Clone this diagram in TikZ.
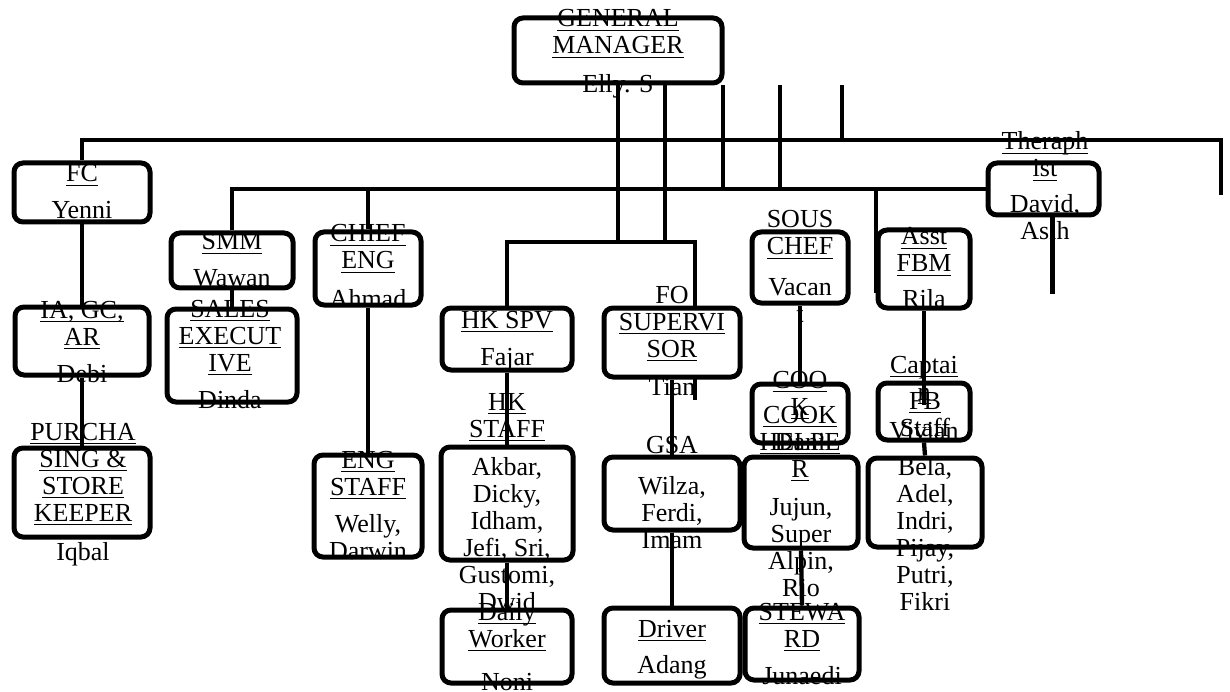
\documentclass[tikz,border=0pt]{standalone}
\usepackage{fontspec}
\setmainfont{Liberation Serif}
\usetikzlibrary{backgrounds}
\newcommand\ulw[1]{\setbox0=\hbox{#1}\rlap{\rule[-4pt]{\wd0}{1.3pt}}\box0}
\newcommand\stk[1]{\vtop{\baselineskip=27pt\lineskiplimit=-100pt\lineskip=0pt\halign{\hfil##\hfil\cr#1\crcr}}}
\newcommand\tx[4]{\node[txt] (#1) at (#2,#3) {\stk{#4}};}
\newcommand\bx[5]{\node[orgbox, minimum width={(#4-#2)*1pt}, minimum height={(#5-#3)*1pt}] (#1) at ({(#2+#4)/2},{(#3+#5)/2}) {};}
\tikzset{
  orgbox/.style={draw, line width=5pt, rounded corners=9pt, fill=white, inner sep=0pt},
  ln/.style={line width=4.3pt},
  txt/.style={inner sep=0pt, anchor=base, font=\fontsize{26}{27}\selectfont}
}
\begin{document}
\begin{tikzpicture}[x=1pt,y=-1pt]
\useasboundingbox (0,0) rectangle (1230,692);
% boxes
\bx{gm}{514}{18}{722}{83}
\bx{fc}{14}{163}{150}{222}
\bx{ia}{15}{307}{149}{375}
\bx{purch}{14}{448}{150}{537}
\bx{smm}{171}{233}{293}{288}
\bx{sales}{167}{309}{297}{402}
\bx{ce}{315}{232}{421}{305}
\bx{engst}{314}{455}{422}{557}
\bx{hkspv}{442}{308}{572}{370}
\bx{hkst}{441}{447}{573}{560}
\bx{daily}{442}{610}{572}{683}
\bx{fo}{604}{308}{740}{377}
\bx{gsa}{604}{457}{740}{530}
\bx{driver}{604}{608}{740}{683}
\bx{sous}{752}{232}{848}{303}
\bx{cook}{752}{384}{848}{443}
\bx{ckh}{744}{457}{858}{548}
\bx{stew}{745}{608}{859}{680}
\bx{afbm}{878}{230}{970}{308}
\bx{capt}{878}{383}{970}{440}
\bx{fbst}{868}{458}{982}{547}
\bx{th}{988}{163}{1099}{215}
% bus coordinates
\coordinate (aL) at (82,140);
\coordinate (aR) at (1221,140);
\coordinate (bL) at (232,189);
\coordinate (cL) at (507,242);
\coordinate (cR) at (695,242);
\coordinate (fbmT) at (876,189);
\coordinate (fbmB) at (876,293);
\begin{scope}[on background layer]
\draw[ln] (fc.north) -- (fc.north |- aL) -- (aR) -- ++(0,55);
\draw[ln] (smm.north) -- (smm.north |- bL) -- (th.west);
\draw[ln] (ce.north) -- (ce.north |- bL);
\draw[ln] (fbmT) -- (fbmB);
\draw[ln] (hkspv.north) -- (hkspv.north |- cL) -- (cR) -- ++(0,158);
\draw[ln] (gm.south) -- (gm.south |- cL);
\draw[ln] ([xshift=47pt]gm.south) -- ++(0,159);
\draw[ln] ([xshift=105pt]gm.south) -- ++(0,106);
\draw[ln] ([xshift=162pt]gm.south) -- ++(0,106);
\draw[ln] ([xshift=224pt]gm.south) -- ++(0,57);
\draw[ln] (fc.south) -- (ia.north);
\draw[ln] (ia.south) -- (purch.north);
\draw[ln] (smm.south) -- (sales.north);
\draw[ln] (ce.south) -- (engst.north);
\draw[ln] (hkspv.south) -- (hkst.north);
\draw[ln] (hkst.south) -- (daily.north);
\draw[ln] (fo.south) -- (gsa.north);
\draw[ln] (gsa.south) -- (driver.north);
\draw[ln] (sous.south) -- (cook.north);
\draw[ln] (ckh.south) -- (stew.north);
\draw[ln] (capt.south) -- (fbst.north);
\draw[ln] ([xshift=9pt]th.south) -- ++(0,77);
\end{scope}
\draw[ln] (afbm.south) -- ([yshift=-24pt]capt.north);
% texts
\tx{t1}{618}{27}{\ulw{GENERAL}\cr\ulw{MANAGER}}
\tx{t2}{618}{93}{Elly. S}
\tx{t3}{82}{182}{\ulw{FC}}
\tx{t4}{82}{219}{Yenni}
\tx{t5}{232}{250}{\ulw{SMM}}
\tx{t6}{232}{287}{Wawan}
\tx{t7}{368}{242}{\ulw{CHIEF}\cr\ulw{ENG}}
\tx{t8}{368}{307}{Ahmad}
\tx{t9}{82}{318}{\ulw{IA, GC,}\cr\ulw{AR}}
\tx{t10}{82}{382}{Debi}
\tx{t11}{230}{317}{\ulw{SALES}\cr\ulw{EXECUT}\cr\ulw{IVE}}
\tx{t12}{230}{408}{Dinda}
\tx{t13}{83}{440}{\ulw{PURCHA}\cr\ulw{SING \&}\cr\ulw{STORE}\cr\ulw{KEEPER}}
\tx{t14}{83}{560}{Iqbal}
\tx{t15}{368}{468}{\ulw{ENG}\cr\ulw{STAFF}}
\tx{t16}{368}{532}{Welly,\cr Darwin}
\tx{t17}{507}{328}{\ulw{HK SPV}}
\tx{t18}{507}{365}{Fajar}
\tx{t19}{507}{410}{\ulw{HK}\cr\ulw{STAFF}}
\tx{t20}{507}{475}{Akbar,\cr Dicky,\cr Idham,\cr Jefi, Sri,\cr Gustomi,\cr Dwid}
\tx{t21}{507}{620}{\ulw{Daily}\cr\ulw{Worker}}
\tx{t22}{507}{690}{Noni}
\tx{t23}{672}{303}{\ulw{FO}\cr\ulw{SUPERVI}\cr\ulw{SOR}}
\tx{t24}{672}{395}{Tian}
\tx{t25}{672}{453}{\ulw{GSA}}
\tx{t26}{672}{494}{Wilza,\cr Ferdi,\cr Imam}
\tx{t27}{672}{637}{\ulw{Driver}}
\tx{t28}{672}{673}{Adang}
\tx{t29}{800}{228}{\ulw{SOUS}\cr\ulw{CHEF}}
\tx{t30}{800}{295}{Vacan\cr t}
\tx{t31}{800}{388}{\ulw{COO}\cr\ulw{K}}
\tx{t32}{800}{450}{Dani}
\tx{t33}{800}{423}{\ulw{COOK}\cr\ulw{HELPE}\cr\ulw{R}}
\tx{t34}{801}{515}{Jujun,\cr Super\cr Alpin,\cr Rio}
\tx{t35}{802}{620}{\ulw{STEWA}\cr\ulw{RD}}
\tx{t36}{802}{684}{Junaedi}
\tx{t37}{924}{245}{\ulw{Asst}\cr\ulw{FBM}}
\tx{t38}{924}{308}{Rila}
\tx{t39}{924}{373}{\ulw{Captai}\cr\ulw{n}}
\tx{t40}{924}{439}{Vivian}
\tx{t41}{925}{409}{\ulw{FB}\cr\ulw{Staff}}
\tx{t42}{925}{475}{Bela,\cr Adel,\cr Indri,\cr Pijay,\cr Putri,\cr Fikri}
\tx{t43}{1045}{150}{\ulw{Theraph}\cr\ulw{ist}}
\tx{t44}{1045}{213}{David,\cr Asih}
\end{tikzpicture}
\end{document}
